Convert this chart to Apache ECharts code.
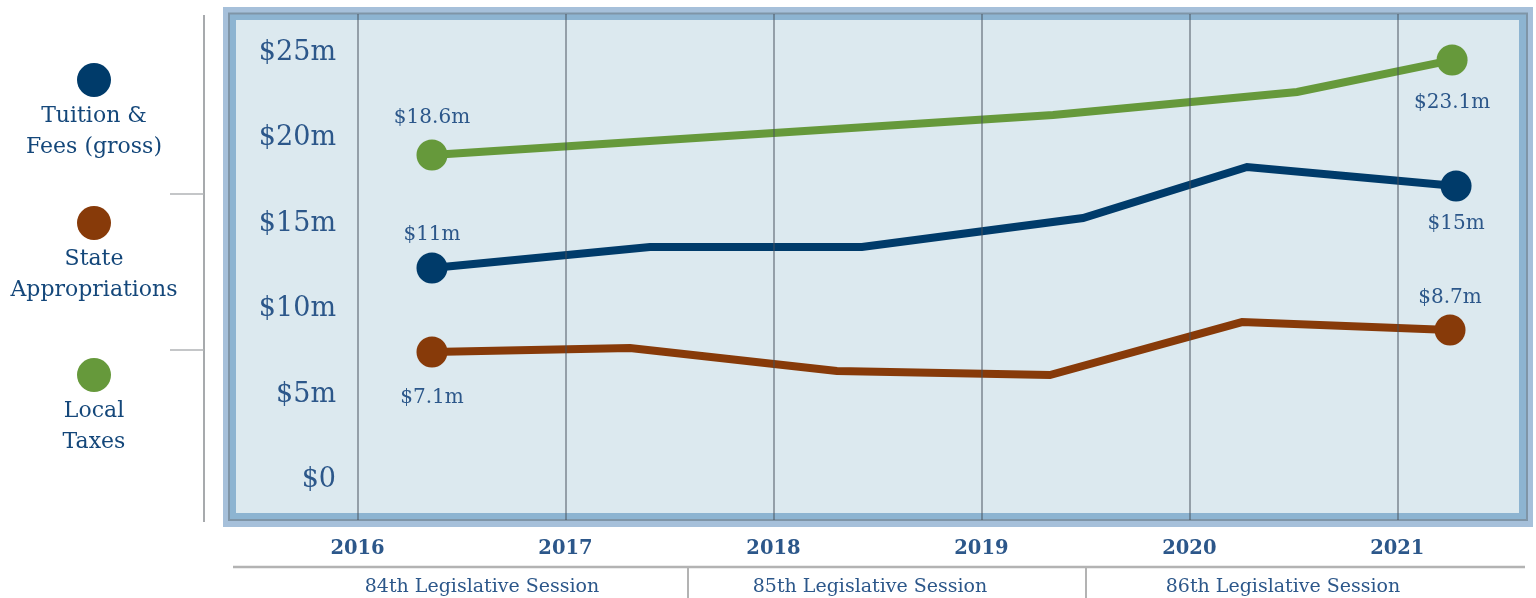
<!DOCTYPE html>
<html><head><meta charset="utf-8">
<script src="https://cdn.jsdelivr.net/npm/echarts@6/dist/echarts.min.js"></script>
<style>html,body{margin:0;padding:0;background:#fff}#c{width:1536px;height:598px}</style>
</head><body><div id="c"></div>
<script>
// ---- data ----
const years = [2016, 2017, 2018, 2019, 2020, 2021];
const sessions = ['84th Legislative Session', '85th Legislative Session', '86th Legislative Session'];
const seriesNames = ['Tuition & Fees (gross)', 'State Appropriations', 'Local Taxes'];
const legendLines = ['Tuition &\nFees (gross)', 'State\nAppropriations', 'Local\nTaxes'];
const yTicks = [0, 5, 10, 15, 20, 25];

const tuitionX = [2016.355, 2017.401, 2018.418, 2019.479, 2020.266, 2021.269];
const tuitionY = [12.24, 13.47, 13.47, 15.16, 18.15, 17.04];
const tuitionLabels = ['$11m', '$15m'];

const stateX = [2016.355, 2017.305, 2018.298, 2019.32, 2020.242, 2021.24];
const stateY = [7.32, 7.55, 6.21, 5.97, 9.07, 8.61];
const stateLabels = ['$7.1m', '$8.7m'];

const localX = [2016.355, 2019.335, 2020.506, 2021.25];
const localY = [18.85, 21.19, 22.54, 24.41];
const localLabels = ['$18.6m', '$23.1m'];

// ---- styles ----
const SERIF = '"DejaVu Serif", serif';
const TXT = '#2c578a';
const LEG = '#14477a';
const colors = ['#003b6a', '#873a09', '#66993b'];

function mk(name, xs, ys, labels, color, sides, dists) {
  const n = xs.length;
  return {
    type: 'line', name, xAxisIndex: 1, yAxisIndex: 1, z: 10, clip: false,
    silent: true, animation: false, emphasis: { disabled: true },
    color, lineStyle: { width: 8, color, join: 'miter' }, itemStyle: { color },
    symbol: 'circle', showSymbol: true,
    symbolSize: (v, p) => (p.dataIndex === 0 || p.dataIndex === n - 1) ? 31 : 0,
    label: { show: false, fontFamily: SERIF, fontSize: 20, color: TXT },
    data: xs.map((x, i) => {
      const it = { value: [x, ys[i]] };
      if (i === 0 || i === n - 1) {
        const k = i === 0 ? 0 : 1;
        it.label = { show: true, position: sides[k], distance: dists[k], formatter: labels[k] };
      }
      return it;
    })
  };
}

// x layout: one year = 208.4px, 2016 at x=358
const gridLeft = 149.6;
const xMin = years[0] - 1;
const xMax = xMin + (1536 - gridLeft) / 208.4;

const legendCY = [80, 223, 375];
const graphics = [
  { type: 'rect', z: 1, shape: { x: 223, y: 7, width: 1310, height: 520 }, style: { fill: '#a6c0da' } },
  { type: 'rect', z: 2, shape: { x: 228, y: 12.5, width: 1300, height: 508.5 }, style: { fill: '#7f95a7' } },
  { type: 'rect', z: 3, shape: { x: 230, y: 14.5, width: 1296, height: 504.5 }, style: { fill: '#8db4d1' } },
  { type: 'rect', z: 4, shape: { x: 236, y: 20, width: 1283, height: 493 }, style: { fill: '#dce9ef' } },
  { type: 'line', z: 4, shape: { x1: 204, y1: 15, x2: 204, y2: 522 }, style: { stroke: '#a7aaad', lineWidth: 2 } },
  { type: 'line', z: 4, shape: { x1: 170, y1: 194, x2: 204, y2: 194 }, style: { stroke: '#b0b3b6', lineWidth: 1.5 } },
  { type: 'line', z: 4, shape: { x1: 170, y1: 350, x2: 204, y2: 350 }, style: { stroke: '#b0b3b6', lineWidth: 1.5 } },
  { type: 'line', z: 4, shape: { x1: 233, y1: 567, x2: 1525, y2: 567 }, style: { stroke: '#b3b3b3', lineWidth: 2.5 } },
  { type: 'line', z: 4, shape: { x1: 688, y1: 567, x2: 688, y2: 598 }, style: { stroke: '#b3b3b3', lineWidth: 2 } },
  { type: 'line', z: 4, shape: { x1: 1086, y1: 567, x2: 1086, y2: 598 }, style: { stroke: '#b3b3b3', lineWidth: 2 } }
];
const sessionCX = [482, 870, 1283];
sessions.forEach((s, i) => graphics.push({
  type: 'text', z: 5, style: { text: s, x: sessionCX[i], y: 587, textAlign: 'center', textVerticalAlign: 'middle',
    font: '19px ' + SERIF, fill: TXT }
}));
legendLines.forEach((t, i) => {
  graphics.push({ type: 'circle', z: 5, shape: { cx: 94, cy: legendCY[i], r: 17 }, style: { fill: colors[i] } });
  graphics.push({ type: 'text', z: 5, style: { text: t, x: 94, y: legendCY[i] + 20.5, textAlign: 'center', textVerticalAlign: 'top',
    font: '22px ' + SERIF, fill: LEG, lineHeight: 31 } });
});

const option = {
  animation: false,
  backgroundColor: '#ffffff',
  grid: [
    { left: gridLeft, right: 0, top: 14, bottom: 78 },
    { left: gridLeft, right: 0, top: 50, bottom: 121 }
  ],
  xAxis: [
    { type: 'value', gridIndex: 0, min: xMin, max: xMax, interval: 1, z: 20,
      axisLine: { show: false }, axisTick: { show: false },
      splitLine: { show: true, showMinLine: false, showMaxLine: false, lineStyle: { color: 'rgba(70,80,90,0.48)', width: 2 } },
      axisLabel: { show: true, showMinLabel: false, margin: 19, fontFamily: SERIF, fontWeight: 'bold',
        fontSize: 19.5, color: TXT, formatter: v => years.includes(v) ? String(v) : '' } },
    { type: 'value', gridIndex: 1, min: xMin, max: xMax, show: false }
  ],
  yAxis: [
    { type: 'value', gridIndex: 0, min: 0, max: 1, show: false },
    { type: 'value', gridIndex: 1, min: yTicks[0], max: yTicks[yTicks.length - 1], interval: yTicks[1] - yTicks[0],
      offset: -186.4, z: 20, axisLine: { show: false }, axisTick: { show: false }, splitLine: { show: false },
      axisLabel: { margin: 0, fontFamily: SERIF, fontSize: 27, color: TXT,
        verticalAlign: 'top', lineHeight: 6,
        formatter: v => v === 0 ? '$0' : '$' + v + 'm' } }
  ],
  graphic: { elements: graphics },
  series: [
    mk(seriesNames[0], tuitionX, tuitionY, tuitionLabels, colors[0], ['top', 'bottom'], [8, 12]),
    mk(seriesNames[1], stateX, stateY, stateLabels, colors[1], ['bottom', 'top'], [20, 7]),
    mk(seriesNames[2], localX, localY, localLabels, colors[2], ['top', 'bottom'], [12, 17])
  ]
};
const chart = echarts.init(document.getElementById('c'), null, { renderer: 'canvas' });
chart.setOption(option);
</script></body></html>
